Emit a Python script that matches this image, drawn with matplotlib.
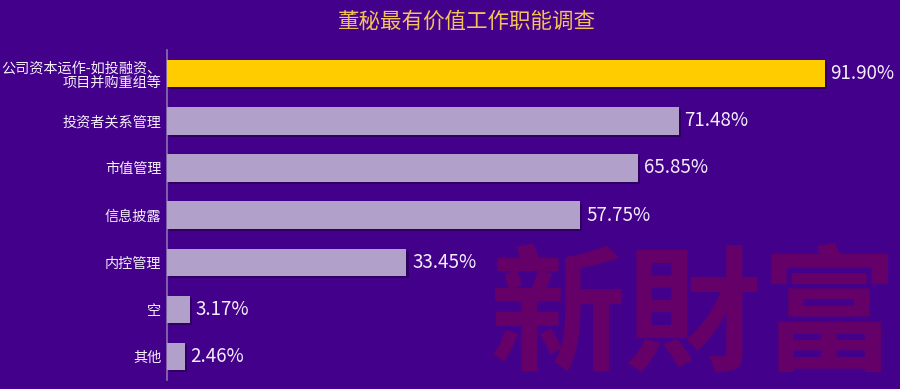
import matplotlib
matplotlib.use("Agg")
import matplotlib.pyplot as plt
import matplotlib.patheffects as pe

plt.rcParams['font.family'] = ['Noto Sans CJK SC', 'DejaVu Sans']

categories = ["公司资本运作-如投融资、\n项目并购重组等", "投资者关系管理", "市值管理",
              "信息披露", "内控管理", "空", "其他"]
values = [91.90, 71.48, 65.85, 57.75, 33.45, 3.17, 2.46]
bar_colors = ["#ffcc00"] + ["#b1a1ca"] * 6

bg = "#43008a"
fig = plt.figure(figsize=(9, 3.89), dpi=100, facecolor=bg)
ax = fig.add_axes([0.1856, 0.023, 0.8144, 0.848])
ax.set_facecolor(bg)

# watermark
fig.text(0.998, 0.0, "新財富", fontsize=98, color="#640068", ha="right", va="bottom",
         family=['Noto Sans CJK TC'], fontweight="bold", zorder=0)

pos = list(range(len(values)))
bars = ax.barh(pos, values, height=0.58, color=bar_colors, zorder=3)
for b in bars:
    b.set_path_effects([pe.SimplePatchShadow(offset=(1.5, -1.5), shadow_rgbFace="#2a0055", alpha=0.8), pe.Normal()])

for p, v in zip(pos, values):
    ax.text(v + 0.8, p, f"{v:.2f}%", va="center", ha="left", color="#f4eefc", fontsize=13.5)

ax.set_ylim(len(values) - 0.5, -0.5)
ax.set_xlim(0, 102.4)
ax.set_yticks(pos)
ax.set_yticklabels(categories, color="#f4eefc", fontsize=10.2, linespacing=1.1)
ax.tick_params(axis="y", length=0, pad=4)
ax.set_xticks([])
for s in ["top", "right", "bottom"]:
    ax.spines[s].set_visible(False)
ax.spines["left"].set_color("#8a70b0")
ax.spines["left"].set_linewidth(1.2)

fig.text(0.519, 0.945, "董秘最有价值工作职能调查", ha="center", va="center",
         color="#f5c25a", fontsize=15.5)

fig.savefig("out.png", dpi=100, facecolor=bg)
